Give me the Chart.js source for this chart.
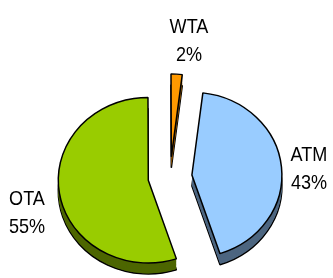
<!DOCTYPE html>
<html>
<head>
<meta charset="utf-8">
<script src="https://cdn.jsdelivr.net/npm/chart.js@4.4.1/dist/chart.umd.min.js"></script>
<style>
  html, body { margin: 0; padding: 0; background: #fff; }
</style>
</head>
<body>
<canvas id="pie" width="333" height="278"></canvas>
<script>
const categories = ['ATM', 'OTA', 'WTA'];
const shares = [43, 55, 2];

const topColors = ['#99CCFF', '#99CC00', '#FF9900'];
const sideColors = ['#4D6680', '#4D6600', '#804C00'];
const depth = 12;
const squash = 0.92;
const explode = 22;

// where each label block sits, relative to the pie centre
const labelOffsets = [[139, -10], [-143, 34], [19, -138]];

const total = shares.reduce((a, b) => a + b, 0);

function pushOut(ctx, arc) {
  const mid = (arc.startAngle + arc.endAngle) / 2;
  ctx.translate(Math.cos(mid) * explode, Math.sin(mid) * explode);
}

// draws the pie as a tilted, exploded 3D pie using the library's arc elements
const tilt = {
  id: 'tilt',
  beforeDatasetDraw(chart) {
    const ctx = chart.ctx;
    const arcs = chart.getDatasetMeta(0).data;
    const cx = arcs[0].x, cy = arcs[0].y;
    ctx.save();
    ctx.translate(cx, cy);
    ctx.scale(1, squash);
    ctx.translate(-cx, -cy);
    for (let d = depth; d >= 1; d--) {
      arcs.forEach((arc, i) => {
        const ghost = Object.create(arc);
        ghost.options = Object.assign({}, arc.options, {
          backgroundColor: sideColors[i],
          borderColor: '#000',
          borderWidth: d === depth ? 1.5 : 0
        });
        ctx.save();
        pushOut(ctx, arc);
        ctx.translate(0, d);
        ghost.draw(ctx);
        ctx.restore();
      });
    }
    arcs.forEach(arc => {
      ctx.save();
      pushOut(ctx, arc);
      arc.draw(ctx);
      ctx.restore();
    });
    ctx.restore();
    return false;
  },
  afterDraw(chart) {
    const ctx = chart.ctx;
    const arcs = chart.getDatasetMeta(0).data;
    const cx = arcs[0].x, cy = arcs[0].y;
    ctx.save();
    ctx.fillStyle = '#000';
    ctx.textAlign = 'center';
    ctx.textBaseline = 'alphabetic';
    ctx.font = '21px "Liberation Sans", Arial, sans-serif';
    arcs.forEach((arc, i) => {
      const [dx, dy] = labelOffsets[i];
      ctx.save();
      ctx.translate(cx + dx, cy + dy);
      ctx.scale(0.86, 1);
      ctx.fillText(categories[i], 0, -6);
      ctx.fillText(Math.round(shares[i] / total * 100) + '%', 0, 22);
      ctx.restore();
    });
    ctx.restore();
  }
};

new Chart(document.getElementById('pie'), {
  type: 'pie',
  data: {
    labels: categories,
    datasets: [{
      data: shares,
      backgroundColor: topColors,
      borderColor: '#000',
      borderWidth: 1.5
    }]
  },
  options: {
    responsive: false,
    animation: false,
    events: [],
    radius: 90,
    rotation: 7,
    layout: { padding: { left: 7, right: 0, top: 76, bottom: 0 } },
    plugins: {
      legend: { display: false },
      tooltip: { enabled: false }
    }
  },
  plugins: [tilt]
});
</script>
</body>
</html>
